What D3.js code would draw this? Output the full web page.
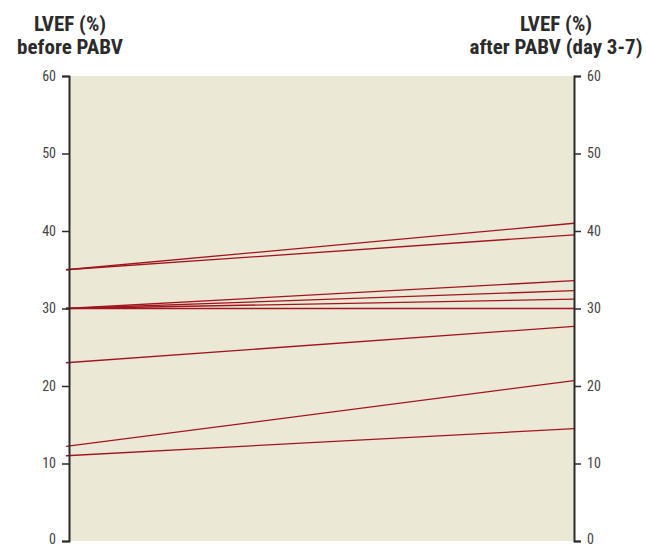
<!DOCTYPE html>
<html><head><meta charset="utf-8">
<script src="https://cdn.jsdelivr.net/npm/d3@7"></script>
<style>body{margin:0;background:#fff}</style>
</head><body>
<svg id="c" width="646" height="547"></svg>
<script>
const beforeValues = [35, 35, 30, 30, 30, 30, 23, 12.2, 11];
const afterValues  = [41, 39.5, 33.6, 32.3, 31.2, 30, 27.7, 20.7, 14.5];
const tickValues = [0, 10, 20, 30, 40, 50, 60];
const leftTitle = ["LVEF (%)", "before PABV"];
const rightTitle = ["LVEF (%)", "after PABV (day 3-7)"];

const svg = d3.select("#c");
const xL = 69, xR = 574, yTop = 76, yBot = 541;
const y = d3.scaleLinear().domain([0, 60]).range([yBot, yTop]);
const x = d3.scaleLinear().domain([0, 1]).range([xL, xR]);

svg.append("rect").attr("x", xL).attr("y", yTop).attr("width", xR - xL).attr("height", yBot - yTop).attr("fill", "#ece8d6");

const font = "'Liberation Sans Narrow','Roboto Condensed','Arial Narrow',sans-serif";

const pairs = beforeValues.map((b, i) => ({b, a: afterValues[i]}));
svg.append("g").selectAll("line").data(pairs).join("line")
  .attr("x1", x(0) - 3).attr("x2", x(1))
  .attr("y1", d => y(d.b)).attr("y2", d => y(d.a))
  .attr("stroke", "#a0161f").attr("stroke-width", 1.3);

function styleAxis(g) {
  g.select(".domain").attr("stroke", "#2b2b2b").attr("stroke-width", 2);
  g.selectAll(".tick line").attr("stroke", "#2b2b2b").attr("stroke-width", 1.5);
  g.selectAll(".tick text").attr("fill", "#444").style("font-family", font).style("font-size", "14px");
}
const gl = svg.append("g").attr("transform", `translate(${xL},0)`)
  .call(d3.axisLeft(y).tickValues(tickValues).tickSize(7).tickSizeOuter(7).tickPadding(6));
styleAxis(gl);
const gr = svg.append("g").attr("transform", `translate(${xR},0)`)
  .call(d3.axisRight(y).tickValues(tickValues).tickSize(7).tickSizeOuter(7).tickPadding(6));
styleAxis(gr);
gl.selectAll(".tick text").filter(d => d === 0).attr("dy", "0.2em");
gr.selectAll(".tick text").filter(d => d === 0).attr("dy", "0.2em");

function title(lines, cx) {
  svg.append("text").attr("text-anchor", "middle").attr("fill", "#2b2b2b")
    .style("font-family", font).style("font-weight", "bold").style("font-size", "21px")
    .selectAll("tspan").data(lines).join("tspan")
    .attr("x", cx).attr("y", (d, i) => 31 + i * 22.5).text(d => d);
}
title(leftTitle, 70);
title(rightTitle, 556);
</script>
</body></html>
